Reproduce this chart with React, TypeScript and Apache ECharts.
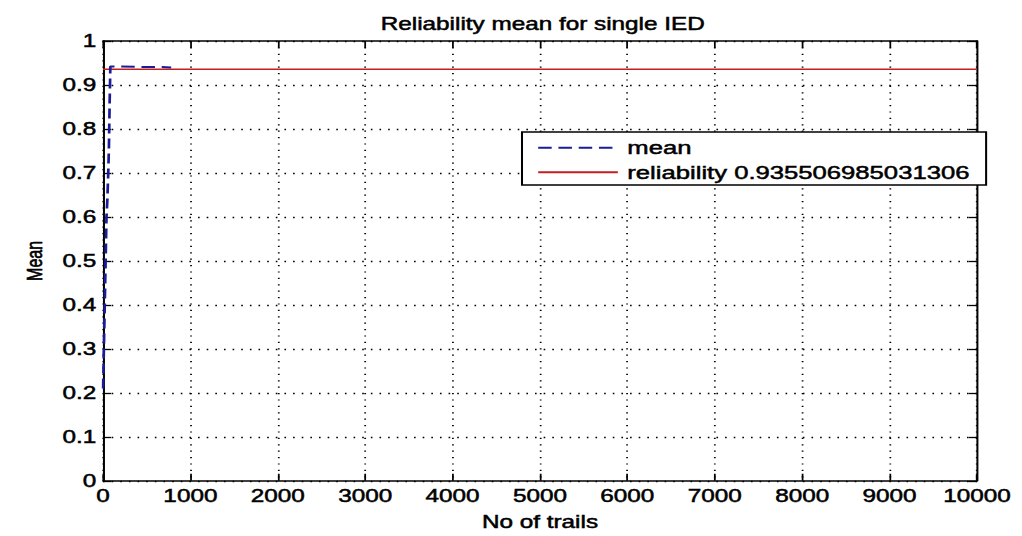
import React, { useEffect, useRef } from "react";
import * as echarts from "echarts";

// ---- data ----
const chartTitle = "Reliability mean for single IED";
const xAxisName = "No of trails";
const yAxisName = "Mean";
const reliabilityValue = 0.935506985031306;
const reliabilityName = "reliability " + String(reliabilityValue);
const meanName = "mean";
const reliabilityTrials = [0, 10000];
const meanTrials = [1, 8, 16, 24, 32, 40, 50, 60, 68, 76, 80, 84, 200, 400, 600, 780];
const meanValues = [0.21, 0.28, 0.36, 0.44, 0.52, 0.6, 0.64, 0.7, 0.76, 0.86, 0.9, 0.942, 0.942, 0.941, 0.941, 0.94];

// the reference is stretched horizontally
const S = 1.35;
const BASE_W = 1022 / S;
const H = 536;
const FONT = "'Liberation Sans', Arial, Helvetica, sans-serif";
const HEAVY = { textBorderColor: "#000", textBorderWidth: 0.5 };

export default function App() {
  const ref = useRef<HTMLDivElement>(null);
  useEffect(() => {
    if (!ref.current) return;
    const chart = echarts.init(ref.current, undefined, { renderer: "svg" });
    const meanData = meanTrials.map((t, i) => [t, meanValues[i]]);
    const relData = reliabilityTrials.map((t) => [t, reliabilityValue]);
    const dotted = (dash: number[]) => ({ show: true, lineStyle: { color: "#000", width: 1.3, type: dash } });
    const axisCommonX = {
      type: "value" as const,
      min: 0,
      max: 10000,
      interval: 1000,
      axisLine: { show: true, onZero: false, lineStyle: { color: "#000", width: 1.5 } },
      axisTick: { show: true, inside: true, length: 7, lineStyle: { color: "#000", width: 1.3 } },
    };
    const axisCommonY = {
      type: "value" as const,
      min: 0,
      max: 1,
      interval: 0.1,
      axisLine: { show: true, onZero: false, lineStyle: { color: "#000", width: 1.5 } },
      axisTick: { show: true, inside: true, length: 6, lineStyle: { color: "#000", width: 1.3 } },
    };
    chart.setOption({
      animation: false,
      backgroundColor: "#fff",
      textStyle: { fontFamily: FONT },
      title: {
        text: chartTitle,
        left: 536 / S,
        textAlign: "center",
        top: 10,
        textStyle: { fontFamily: FONT, fontSize: 18, fontWeight: "normal", color: "#000", ...HEAVY },
      },
      grid: { left: 103 / S, right: 45 / S, top: 41, bottom: 47, containLabel: false },
      legend: {
        orient: "vertical",
        left: 522 / S,
        top: 132,
        padding: [6, 12, 3, 11],
        itemGap: 5,
        itemWidth: 59,
        itemHeight: 14,
        backgroundColor: "#fff",
        borderColor: "#000",
        borderWidth: 1.5,
        borderRadius: 0,
        itemStyle: { opacity: 0 },
        textStyle: { fontFamily: FONT, fontSize: 19, color: "#000", padding: [0, 0, 0, 2], ...HEAVY },
        data: [meanName, reliabilityName],
      },
      xAxis: [
        {
          ...axisCommonX,
          position: "bottom",
          name: xAxisName,
          nameLocation: "middle",
          nameGap: 32,
          nameTextStyle: { fontFamily: FONT, fontSize: 18, color: "#000", ...HEAVY },
          axisLabel: {
            show: true,
            margin: 6,
            fontFamily: FONT,
            fontSize: 18,
            color: "#000",
            ...HEAVY,
            formatter: (v: number) => String(v),
          },
          splitLine: dotted([1.2, 5.2]),
        },
        {
          ...axisCommonX,
          position: "top",
          axisLabel: { show: false },
          splitLine: { show: false },
        },
      ],
      yAxis: [
        {
          ...axisCommonY,
          position: "left",
          name: yAxisName,
          nameLocation: "middle",
          nameGap: 43,
          nameRotate: 90,
          nameTextStyle: { fontFamily: FONT, fontSize: 16, color: "#000", ...HEAVY },
          axisLabel: { show: true, margin: 5, fontFamily: FONT, fontSize: 18, color: "#000", ...HEAVY },
          splitLine: dotted([1.2, 5.2]),
        },
        {
          ...axisCommonY,
          position: "right",
          axisLabel: { show: false },
          splitLine: { show: false },
        },
      ],
      series: [
        {
          name: meanName,
          type: "line",
          xAxisIndex: 0,
          yAxisIndex: 0,
          data: meanData,
          symbol: "none",
          showSymbol: false,
          lineStyle: { color: "#1c1c96", width: 2, type: [10, 5] },
          itemStyle: { color: "#1c1c96" },
          z: 3,
        },
        {
          name: reliabilityName,
          type: "line",
          xAxisIndex: 0,
          yAxisIndex: 0,
          data: relData,
          symbol: "none",
          showSymbol: false,
          lineStyle: { color: "#c41e1e", width: 1.5, type: "solid" },
          itemStyle: { color: "#c41e1e" },
          z: 2,
        },
      ],
    });
    return () => chart.dispose();
  }, []);
  return (
    <div
      ref={ref}
      style={{
        position: "fixed",
        left: 0,
        top: 0,
        width: BASE_W,
        height: H,
        transform: `scaleX(${S})`,
        transformOrigin: "0 0",
        background: "#fff",
      }}
    />
  );
}
